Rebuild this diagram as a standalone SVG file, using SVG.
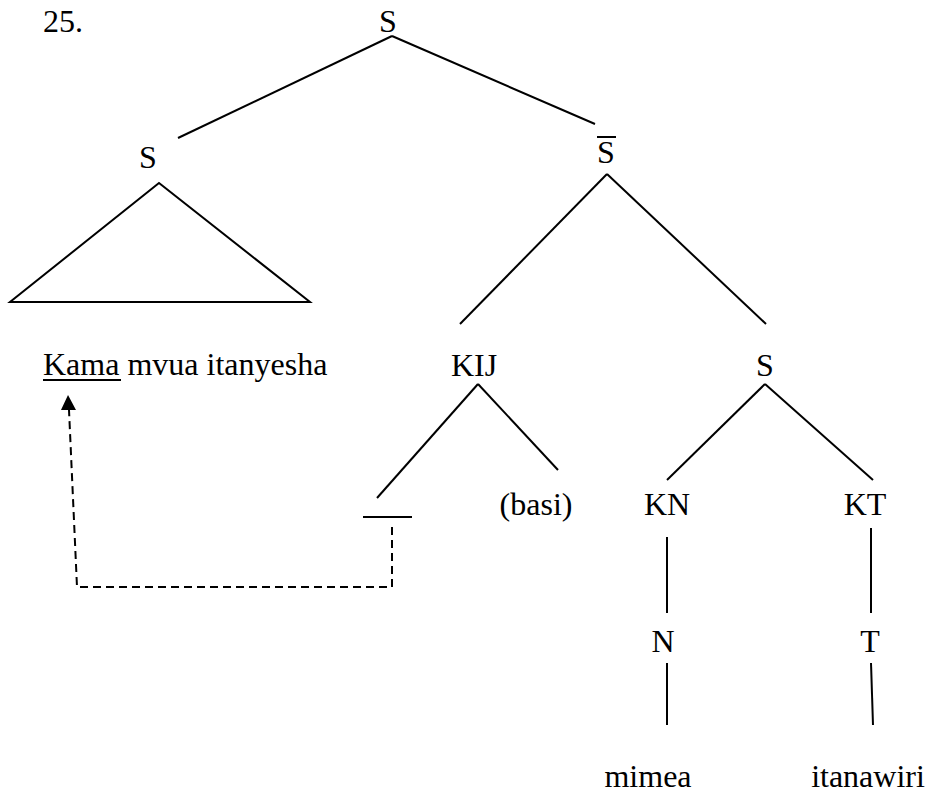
<svg xmlns="http://www.w3.org/2000/svg" width="928" height="794" viewBox="0 0 928 794">
  <style>
    .mid { text-anchor: middle; }
    .edge { stroke: #000; stroke-width: 2; fill: none; }
    .dash { stroke: #000; stroke-width: 2; fill: none; stroke-dasharray: 8 5; }
  </style>
  <rect width="928" height="794" fill="#fff"/>

  <g font-family="Liberation Serif, serif" font-size="32" fill="#000">
    <text x="43" y="32">25.</text>

    <!-- tree nodes -->
    <g id="node-root"><text class="mid" x="388" y="32">S</text></g>
    <g id="node-s-left"><text class="mid" x="148" y="168">S</text></g>
    <g id="node-sbar">
      <text class="mid" x="606" y="163">S</text>
      <line class="edge" x1="597" y1="137" x2="616" y2="137"/>
    </g>
    <g id="node-clause-text">
      <text x="43" y="375">Kama mvua itanyesha</text>
      <line class="edge" x1="43" y1="380" x2="121" y2="380"/>
    </g>
    <g id="node-kij"><text class="mid" x="474" y="376">KIJ</text></g>
    <g id="node-s-right"><text class="mid" x="765" y="376">S</text></g>
    <g id="node-gap"><line class="edge" x1="363" y1="517" x2="412" y2="517"/></g>
    <g id="node-basi"><text class="mid" x="536" y="515">(basi)</text></g>
    <g id="node-kn"><text class="mid" x="667" y="515">KN</text></g>
    <g id="node-kt"><text class="mid" x="865" y="515">KT</text></g>
    <g id="node-n"><text class="mid" x="663" y="652">N</text></g>
    <g id="node-t"><text class="mid" x="870" y="652">T</text></g>
    <g id="node-mimea"><text class="mid" x="648" y="787">mimea</text></g>
    <g id="node-itanawiri"><text class="mid" x="868" y="787">itanawiri</text></g>
  </g>

  <!-- branches -->
  <g id="connectors">
    <line class="edge" x1="392" y1="36" x2="178" y2="138"/>
    <line class="edge" x1="392" y1="36" x2="595" y2="124"/>
    <polygon class="edge" points="159,183 10,302 310,302"/>
    <line class="edge" x1="607" y1="174" x2="460" y2="324"/>
    <line class="edge" x1="607" y1="174" x2="766" y2="324"/>
    <line class="edge" x1="478" y1="384" x2="377" y2="498"/>
    <line class="edge" x1="478" y1="384" x2="558" y2="470"/>
    <line class="edge" x1="765" y1="384" x2="667" y2="480"/>
    <line class="edge" x1="765" y1="384" x2="873" y2="480"/>
    <line class="edge" x1="667" y1="537" x2="667" y2="613"/>
    <line class="edge" x1="871" y1="528" x2="871" y2="613"/>
    <line class="edge" x1="667" y1="663" x2="667" y2="725"/>
    <line class="edge" x1="871" y1="663" x2="873" y2="725"/>

    <!-- movement trace -->
    <polyline class="dash" points="392,527 392,587 77,587 69,410"/>
    <polygon points="68,395 61,410 76,410" fill="#000"/>
  </g>
</svg>
